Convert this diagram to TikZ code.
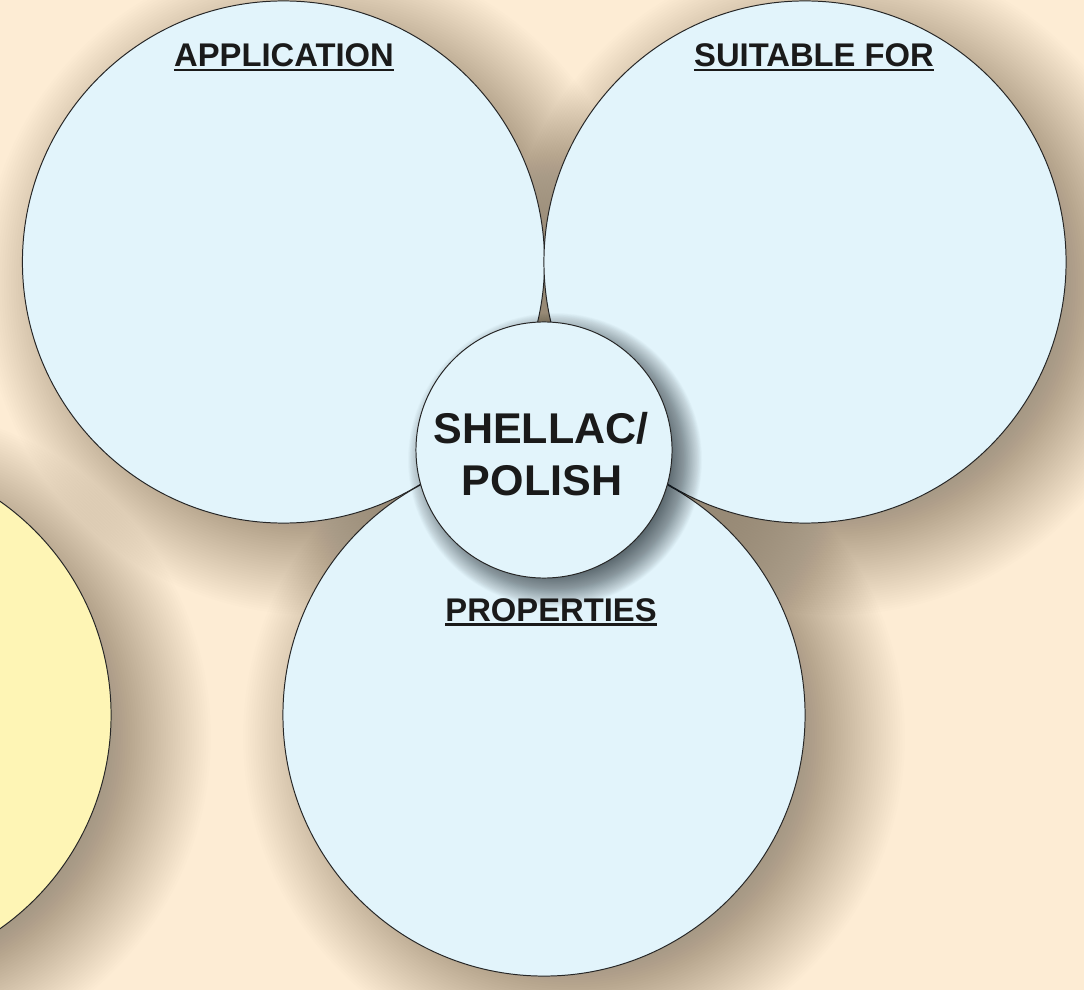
\documentclass[tikz,border=0pt]{standalone}
\usepackage{fontspec}
\setmainfont{Liberation Sans}
\definecolor{bgc}{HTML}{FDECD4}
\definecolor{bluec}{HTML}{E2F4FB}
\definecolor{yelc}{HTML}{FEF5B5}
\definecolor{txtc}{HTML}{1A1A1A}
\definecolor{shadc}{HTML}{2A2010}
\definecolor{hubshadc}{HTML}{10181E}
\tikzset{
  bigc/.style={circle, draw=black!85, line width=0.7pt, fill=bluec, minimum size=13.05cm, inner sep=0pt},
  hubc/.style={circle, draw=black!85, line width=0.7pt, fill=bluec, minimum size=6.4cm, inner sep=0pt},
  shadedisk/.style={fill=shadc, draw=none},
  lbl/.style={font=\bfseries\fontsize{23.3}{28}\selectfont, text=txtc, inner sep=0pt, anchor=base},
  hublbl/.style={font=\bfseries\fontsize{30.6}{37}\selectfont, text=txtc, inner sep=0pt, anchor=base},
  uline/.style={line width=1.6pt, draw=txtc},
}
% soft shadow: centre x, centre y, radius, dx, dy, half blur width, opacity per disk (all in px)
\newcommand\softshadow[7]{%
  \foreach \i in {0,...,59}{%
    \fill[shadedisk, fill opacity=#7] (#1+#4,#2+#5) circle[radius={(#3-#6+\i*2*#6/59)*0.025cm}];
  }}
\begin{document}
\begin{tikzpicture}[x=0.025cm, y=-0.025cm]
  \useasboundingbox (0,0) rectangle (1084,990);
  \clip (0,0) rectangle (1084,990);
  \fill[bgc] (0,0) rectangle (1084,990);
  % shadows of the outer circles
  \softshadow{283.5}{262}{261}{30}{22}{70}{0.0098}
  \softshadow{805}{262}{261}{30}{22}{70}{0.0098}
  \softshadow{544}{715}{261}{30}{22}{70}{0.0098}
  \softshadow{-150}{715}{261}{30}{22}{70}{0.0098}
  % outer circles
  \node[bigc] (app) at (283.5,262) {};
  \node[bigc] (suit) at (805,262) {};
  \node[bigc] (prop) at (544,715) {};
  \node[bigc, fill=yelc] (yel) at (-150,715) {};
  % hub
  \begin{scope}[shadedisk/.style={fill=hubshadc, draw=none}]
    \softshadow{544}{450}{128}{11}{10}{19}{0.017}
  \end{scope}
  \node[hubc] (hub) at (544,450) {};
  \node[hublbl] (hubA) at (541,443) {SHELLAC/};
  \node[hublbl] (hubB) at (542,495) {POLISH};
  % labels
  \node[lbl] (lapp) at (284,67) {APPLICATION};
  \node[lbl] (lsuit) at (814,67) {SUITABLE FOR};
  \node[lbl] (lprop) at (551,621) {PROPERTIES};
  \foreach \n in {lapp,lsuit,lprop}
    \draw[uline] ([yshift=-2.4pt]\n.base west) -- ([yshift=-2.4pt]\n.base east);
\end{tikzpicture}
\end{document}
